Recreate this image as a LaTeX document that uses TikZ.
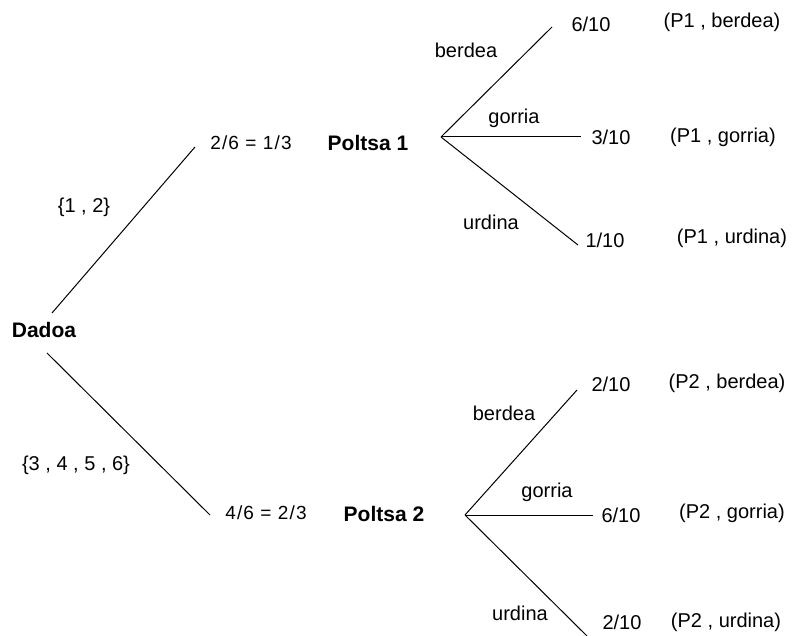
\documentclass[tikz,border=0pt]{standalone}
\usepackage{fontspec}
\setmainfont{Liberation Sans}
\begin{document}
\begin{tikzpicture}[x=1pt,y=-1pt,
  txt/.style={inner sep=0pt,font=\fontsize{20}{24}\selectfont},
  frac/.style={inner sep=0pt,font=\fontsize{19}{23}\selectfont\addfontfeatures{LetterSpace=6}},
  strong/.style={inner sep=0pt,font=\fontsize{21}{25}\selectfont\bfseries},
  branch/.style={line width=1pt,black}]
\useasboundingbox (0,0) rectangle (795,636);

% root and first level
\node[strong] (dado) at (44,330) {Dadoa};
\node[txt] (s12) at (84,207) {\{1 , 2\}};
\node[txt] (s3456) at (76,465) {\{3 , 4 , 5 , 6\}};
\node[frac] (p1) at (251,143) {2/6 = 1/3};
\node[strong] (b1) at (368,143) {Poltsa 1};
\node[frac] (p2) at (266,513) {4/6 = 2/3};
\node[strong] (b2) at (384,514) {Poltsa 2};

\coordinate (d1) at (52,313);
\coordinate (d2) at (47,353);
\coordinate (e1) at (195,147);
\coordinate (e2) at (210,515);
\draw[branch] (d1) -- (e1);
\draw[branch] (d2) -- (e2);

% branches from Poltsa 1
\coordinate (f1) at (441,137);
\coordinate (f1a) at (552,27);
\coordinate (f1b) at (581,137);
\coordinate (f1c) at (578,245);
\draw[branch] (f1) -- (f1a);
\draw[branch] (f1) -- (f1b);
\draw[branch] (f1) -- (f1c);
\node[txt] (c1a) at (466,50) {berdea};
\node[txt] (c1b) at (514,118) {gorria};
\node[txt] (c1c) at (491,222) {urdina};
\node[txt] (q1a) at (591,24) {6/10};
\node[txt] (q1b) at (611,137) {3/10};
\node[txt] (q1c) at (605,240) {1/10};
\node[txt] (r1a) at (722,22) {(P1 , berdea)};
\node[txt] (r1b) at (723,137) {(P1 , gorria)};
\node[txt] (r1c) at (732,238) {(P1 , urdina)};

% branches from Poltsa 2
\coordinate (f2) at (465,515);
\coordinate (f2a) at (577,390);
\coordinate (f2b) at (593,515);
\coordinate (f2c) at (587,636);
\draw[branch] (f2) -- (f2a);
\draw[branch] (f2) -- (f2b);
\draw[branch] (f2) -- (f2c);
\node[txt] (c2a) at (504,413) {berdea};
\node[txt] (c2b) at (547,492) {gorria};
\node[txt] (c2c) at (520,613) {urdina};
\node[txt] (q2a) at (611,384) {2/10};
\node[txt] (q2b) at (621,515) {6/10};
\node[txt] (q2c) at (622,622) {2/10};
\node[txt] (r2a) at (727,383) {(P2 , berdea)};
\node[txt] (r2b) at (732,513) {(P2 , gorria)};
\node[txt] (r2c) at (726,622) {(P2 , urdina)};
\end{tikzpicture}
\end{document}
